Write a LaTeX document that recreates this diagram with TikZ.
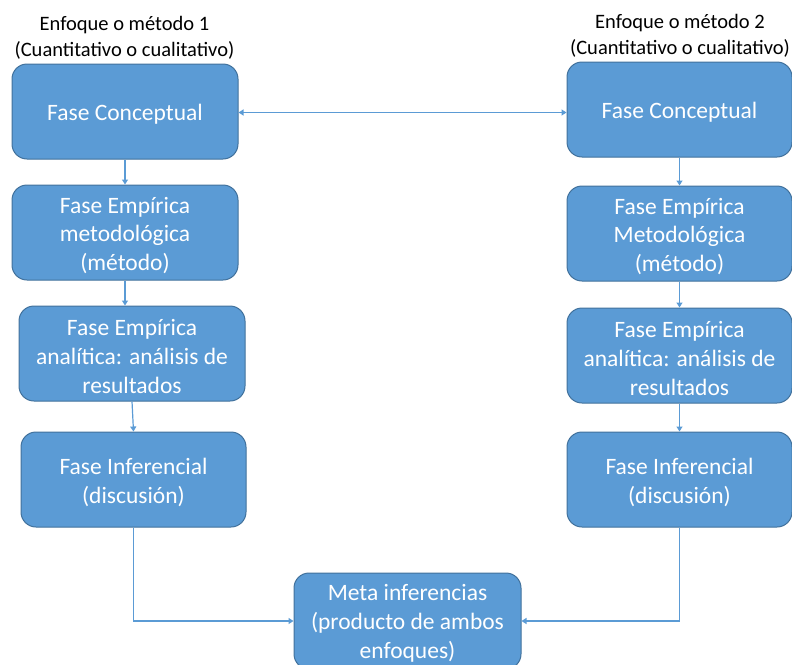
\documentclass[tikz,border=0pt]{standalone}
\usepackage{fontspec}
\setmainfont{Carlito}
\usetikzlibrary{arrows.meta}
\definecolor{boxfill}{HTML}{5B9BD5}
\definecolor{boxline}{HTML}{41719C}
\definecolor{conn}{HTML}{5B9BD5}
\tikzset{
  phase/.style={draw=boxline, line width=1pt, fill=boxfill, rounded corners=15pt,
    minimum width=225pt, minimum height=95pt, inner sep=0pt},
  boxtext/.style={align=center, inner sep=0pt, text=white,
    font=\fontsize{23.5}{28.8}\selectfont},
  titletext/.style={align=center, inner sep=0pt, font=\fontsize{20.5}{26}\selectfont},
  conn/.style={draw=conn, line width=1.2pt, -{Triangle[width=6pt,length=5pt]}},
  conn2/.style={draw=conn, line width=1.2pt, {Triangle[width=6pt,length=5pt]}-{Triangle[width=6pt,length=5pt]}}
}
\begin{document}
\begin{tikzpicture}[x=1pt,y=-1pt]
\useasboundingbox (0,0) rectangle (792,664);
\node[titletext] (t1) at (124.5,37.5) {Enfoque o método 1\\(Cuantitativo o cualitativo)};
\node[titletext] (t2) at (680,35.5) {Enfoque o método 2\\(Cuantitativo o cualitativo)};

\node[phase, minimum width=226pt] (L1) at (125,111.5) {};
\node[phase, minimum width=226pt] (L2) at (125,232.5) {};
\node[phase, minimum width=226pt] (L3) at (132,353.5) {};
\node[phase] (L4) at (133.5,479.5) {};
\node[phase] (R1) at (679.5,109.5) {};
\node[phase] (R2) at (679.5,233.5) {};
\node[phase] (R3) at (679.5,355.5) {};
\node[phase] (R4) at (679.5,479.5) {};
\node[phase, minimum width=227pt, minimum height=96pt] (M) at (407.5,621) {};

\node[boxtext] (L1t) at ([yshift=-2.5pt]L1.center) {Fase Conceptual};
\node[boxtext] (L2t) at ([yshift=-3pt]L2.center) {Fase Empírica\\metodológica\\(método)};
\node[boxtext] (L3t) at ([yshift=-3pt]L3.center) {Fase Empírica\\analítica: análisis de\\resultados};
\node[boxtext] (L4t) at ([yshift=-3pt]L4.center) {Fase Inferencial\\(discusión)};
\node[boxtext] (R1t) at ([yshift=-2.5pt]R1.center) {Fase Conceptual};
\node[boxtext] (R2t) at ([yshift=-3pt]R2.center) {Fase Empírica\\Metodológica\\(método)};
\node[boxtext] (R3t) at ([yshift=-3pt]R3.center) {Fase Empírica\\analítica: análisis de\\resultados};
\node[boxtext] (R4t) at ([yshift=-3pt]R4.center) {Fase Inferencial\\(discusión)};
\node[boxtext] (Mt) at ([yshift=-2.5pt]M.center) {Meta inferencias\\(producto de ambos\\enfoques)};

\draw[conn2] ([yshift=-1pt]L1.east) -- ([yshift=-1pt]L1.east -| R1.west);
\draw[conn] (L1.south) -- (L2.north);
\draw[conn] (L2.south) -- (L2.south |- L3.north);
\draw[conn] (L3.south) -- (L4.north);
\draw[conn] (L4.south) |- (M.west);
\draw[conn] (R1.south) -- (R2.north);
\draw[conn] (R2.south) -- (R3.north);
\draw[conn] (R3.south) -- (R4.north);
\draw[conn] (R4.south) |- (M.east);
\end{tikzpicture}
\end{document}
